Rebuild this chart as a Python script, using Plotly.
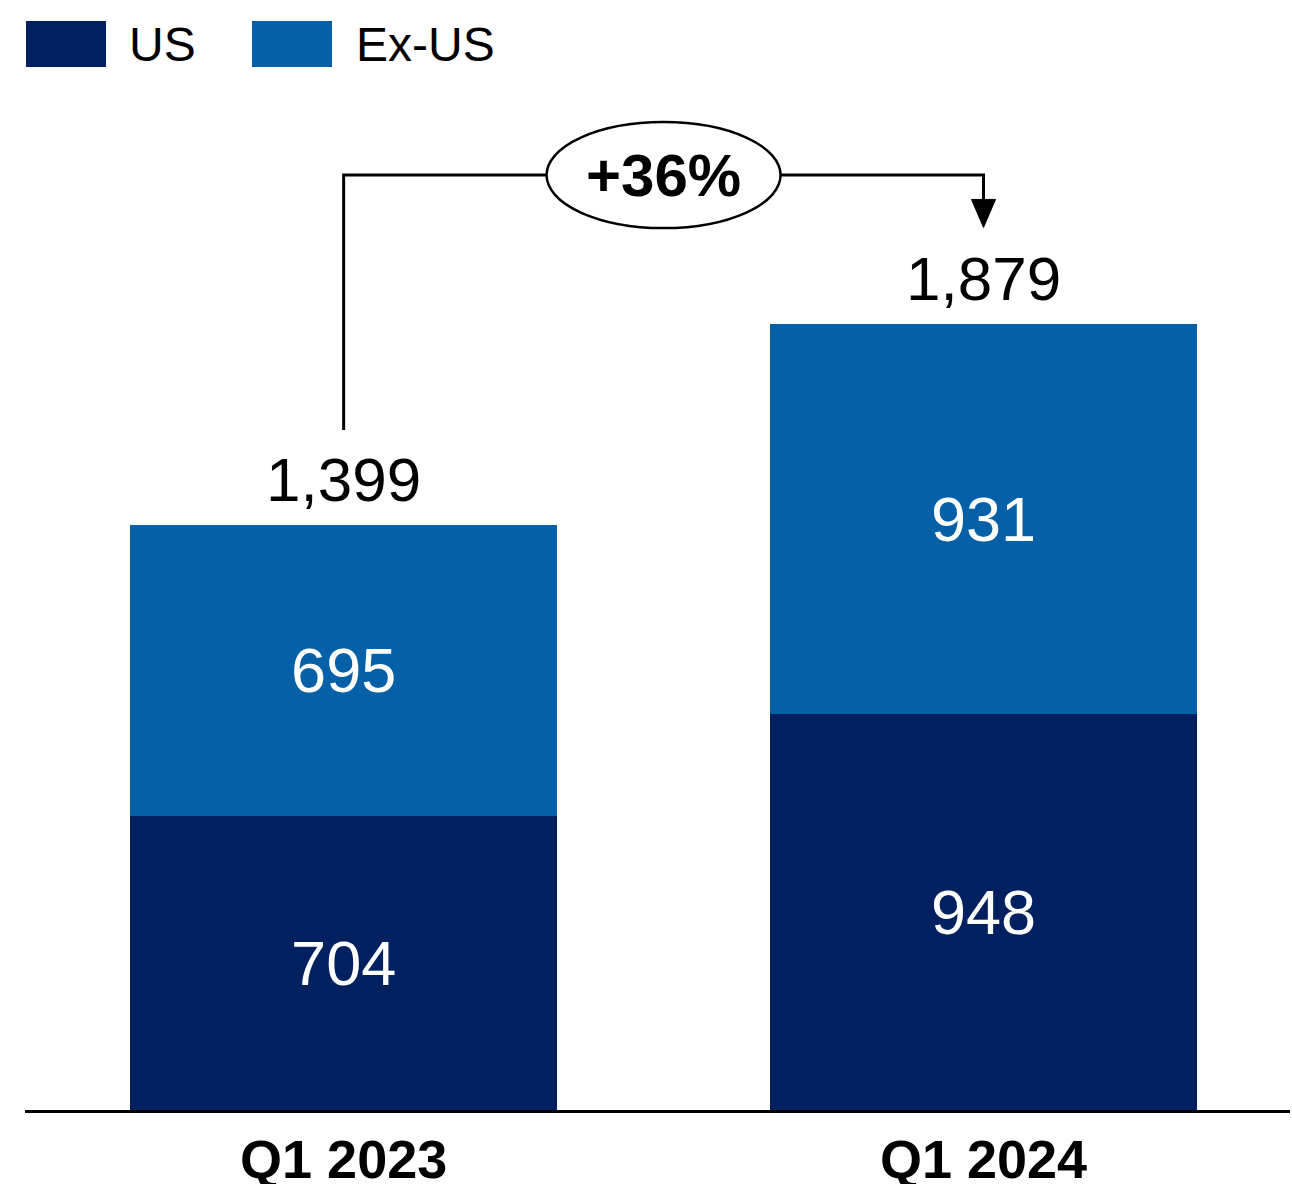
import plotly.graph_objects as go

categories = ["Q1 2023", "Q1 2024"]
us_values = [704, 948]
exus_values = [695, 931]
totals = [1399, 1879]
growth_label = "+36%"
series_names = ["US", "Ex-US"]

US_COLOR = "#002060"
EXUS_COLOR = "#0560A8"
FONT = "Liberation Sans, Arial, sans-serif"

W, H = 1292, 1184
ML, MR, MT, MB = 25, 2, 0, 74
plot_h = H - MT - MB
plot_w = W - ML - MR
YMAX = 2655
px_per_unit = plot_h / YMAX
x_range = [-0.498, 1.479]
px_per_x = plot_w / (x_range[1] - x_range[0])

def dy(px):
    return px / px_per_unit

def dx(px):
    return px / px_per_x

xs = [0, 1]

fig = go.Figure()
fig.add_trace(go.Bar(
    x=xs, y=us_values, name=series_names[0], marker=dict(color=US_COLOR, line=dict(width=0)),
    width=0.667, text=[str(v) for v in us_values], textposition="inside",
    insidetextanchor="middle", textangle=0,
    textfont=dict(color="white", size=63, family=FONT),
))
fig.add_trace(go.Bar(
    x=xs, y=exus_values, name=series_names[1], marker=dict(color=EXUS_COLOR, line=dict(width=0)),
    width=0.667, text=[str(v) for v in exus_values], textposition="inside",
    insidetextanchor="middle", textangle=0,
    textfont=dict(color="white", size=63, family=FONT),
))

annotations = []
# totals above bars
for x, t in zip(xs, totals):
    annotations.append(dict(
        x=x, y=t + dy(46), xref="x", yref="y", text=f"{t:,}", showarrow=False,
        font=dict(size=62, color="black", family=FONT), yanchor="middle",
    ))

# bracket
y_br = totals[0] + dy(350)
y_left_bottom = totals[0] + dy(95)
y_tip = totals[1] + dy(97)
ell_x0, ell_x1 = 0.5 - dx(117), 0.5 + dx(117)
ell_y0, ell_y1 = y_br - dy(53), y_br + dy(53)

shapes = []
shapes.append(dict(type="path", xref="x", yref="y",
                   path=f"M 0 {y_left_bottom} L 0 {y_br} L {ell_x0} {y_br}",
                   line=dict(color="black", width=3)))
arrow_head_top = y_tip + dy(28)
shapes.append(dict(type="path", xref="x", yref="y",
                   path=f"M {ell_x1} {y_br} L 1 {y_br} L 1 {arrow_head_top}",
                   line=dict(color="black", width=3)))
shapes.append(dict(type="path", xref="x", yref="y",
                   path=f"M {1 - dx(12)} {arrow_head_top} L {1 + dx(12)} {arrow_head_top} L 1 {y_tip} Z",
                   fillcolor="black", line=dict(color="black", width=1)))
shapes.append(dict(type="circle", xref="x", yref="y",
                   x0=ell_x0, x1=ell_x1, y0=ell_y0, y1=ell_y1,
                   fillcolor="white", line=dict(color="black", width=2.5)))
annotations.append(dict(x=0.5, y=y_br, xref="x", yref="y", text=f"<b>{growth_label}</b>",
                        showarrow=False, font=dict(size=60, color="black", family=FONT),
                        yanchor="middle"))

# legend (manual)
def px_to_paper_x(px):
    return (px - ML) / plot_w

def px_to_paper_y(py):
    return 1 - (py - MT) / plot_h

legend_items = [(series_names[0], US_COLOR, 26, 130), (series_names[1], EXUS_COLOR, 252, 357)]
for name, col, sx, tx in legend_items:
    shapes.append(dict(type="rect", xref="paper", yref="paper",
                       x0=px_to_paper_x(sx), x1=px_to_paper_x(sx + 80),
                       y0=px_to_paper_y(67), y1=px_to_paper_y(21),
                       fillcolor=col, line=dict(width=0)))
    annotations.append(dict(x=px_to_paper_x(tx - 3), y=px_to_paper_y(44), xref="paper", yref="paper",
                            text=name, showarrow=False, xanchor="left", yanchor="middle",
                            font=dict(size=48, color="black", family=FONT)))

fig.update_layout(
    barmode="stack", width=W, height=H,
    margin=dict(l=ML, r=MR, t=MT, b=MB, autoexpand=False),
    paper_bgcolor="white", plot_bgcolor="white",
    showlegend=False, shapes=shapes, annotations=annotations,
    font=dict(family=FONT),
)
fig.update_xaxes(range=x_range, tickvals=xs, ticktext=[f"<b>{c}</b>" for c in categories],
                 tickfont=dict(size=54, color="black", family=FONT),
                 showline=True, linecolor="black", linewidth=3, ticks="",
                 automargin=False,
                 showgrid=False, zeroline=False, fixedrange=True)
fig.update_yaxes(range=[0, YMAX], visible=False, showgrid=False, zeroline=False, automargin=False)

fig.write_html("out.html", config={"displayModeBar": False, "staticPlot": True},
               post_script="document.body.style.margin='0';document.body.style.overflow='hidden';")
